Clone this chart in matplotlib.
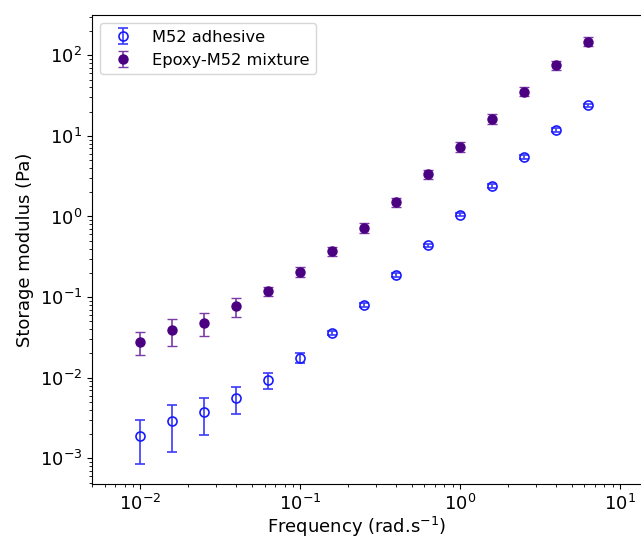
import matplotlib
matplotlib.use('Agg')
import matplotlib.pyplot as plt
import numpy as np

# angular frequency (rad/s)
freq = [0.01, 0.0158, 0.0251, 0.0398, 0.0631, 0.1, 0.158, 0.251,
        0.398, 0.631, 1.0, 1.58, 2.51, 3.98, 6.31]

# storage modulus, M52 adhesive
g_m52 = [0.0019, 0.0029, 0.00375, 0.0056, 0.0094, 0.0177, 0.036, 0.080,
         0.19, 0.44, 1.05, 2.4, 5.5, 11.8, 24.0]
err_m52 = [0.00105, 0.0017, 0.0018, 0.0021, 0.0021, 0.0025, 0.0025, 0.005,
           0.01, 0.022, 0.05, 0.12, 0.28, 0.6, 1.2]

# storage modulus, epoxy-M52 mixture
g_mix = [0.028, 0.039, 0.048, 0.077, 0.118, 0.205, 0.37, 0.73,
         1.52, 3.35, 7.3, 16.4, 35.5, 75.0, 148.0]
err_mix = [0.009, 0.014, 0.015, 0.02, 0.016, 0.028, 0.05, 0.1,
           0.2, 0.45, 1.0, 2.2, 4.5, 9.0, 19.0]

fig = plt.figure(figsize=(6.41, 5.40), dpi=100)
# right edge of the axes runs past the figure, like the cropped original
ax = fig.add_axes([0.1435, 0.1037, 0.8674, 0.8685])

ax.errorbar(freq, g_m52, yerr=err_m52, fmt='o', mfc='none', mec='#1a1aff',
            ecolor='#3a3aff', mew=1.2, ms=6.5, capsize=3.5, elinewidth=1.2,
            label='M52 adhesive')
ax.errorbar(freq, g_mix, yerr=err_mix, fmt='o', color='#4b0082',
            ecolor='#7a3aa8', ms=6.5, capsize=3.5, elinewidth=1.2,
            label='Epoxy-M52 mixture')

ax.set_xscale('log')
ax.set_yscale('log')
ax.set_xlim(0.005, 15)
ax.set_ylim(4.8e-4, 316)

ax.set_xlabel('Frequency (rad.s$^{-1}$)', fontsize=13)
ax.set_ylabel('Storage modulus (Pa)', fontsize=13)
ax.xaxis.set_label_coords(0.475, -0.065)
ax.tick_params(labelsize=13)

ax.legend(loc='upper left', fontsize=11.7)

fig.savefig('out.png', dpi=100)
